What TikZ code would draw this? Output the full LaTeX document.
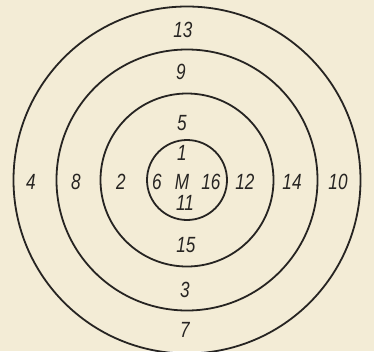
\documentclass[tikz,border=0pt]{standalone}
\usepackage{fontspec}
\setmainfont{Liberation Sans}
\definecolor{paper}{RGB}{243,236,214}
\definecolor{ink}{RGB}{38,36,34}
\tikzset{
  ring/.style={draw=ink,line width=1.8pt},
  num/.style={text=ink,font=\fontsize{22}{22}\selectfont\itshape,xscale=0.78,transform shape,inner sep=0pt}
}
\begin{document}
\begin{tikzpicture}[x=1pt,y=1pt]
  % paper
  \fill[paper] (-187,-171) rectangle (187,180);
  \useasboundingbox (-187,-171) rectangle (187,180);
  % Rings
  \draw[ring] (0,0) circle (173.5);
  \draw[ring] (0,0) circle (130.5);
  \draw[ring] (0,0) circle (86.5);
  \draw[ring] (0,0) circle (40);
  % Vertical row
  \node[num] (n13) at (-4,150) {13};
  \node[num] (n9)  at (-6,108) {9};
  \node[num] (n5)  at (-5,57)  {5};
  \node[num] (n1)  at (-5,27)  {1};
  \node[num] (nM)  at (-5,-2)  {M};
  \node[num] (n11) at (-2,-23) {11};
  \node[num] (n15) at (-1,-65) {15};
  \node[num] (n3)  at (-2,-110) {3};
  \node[num] (n7)  at (-2,-150) {7};
  % Horizontal row
  \node[num] (n4)  at (-156,-2) {4};
  \node[num] (n8)  at (-111,-2) {8};
  \node[num] (n2)  at (-66,-2)  {2};
  \node[num] (n6)  at (-30,-2)  {6};
  \node[num] (n16) at (24,-2)   {16};
  \node[num] (n12) at (58,-2)   {12};
  \node[num] (n14) at (105,-2)  {14};
  \node[num] (n10) at (151,-2)  {10};
\end{tikzpicture}
\end{document}
